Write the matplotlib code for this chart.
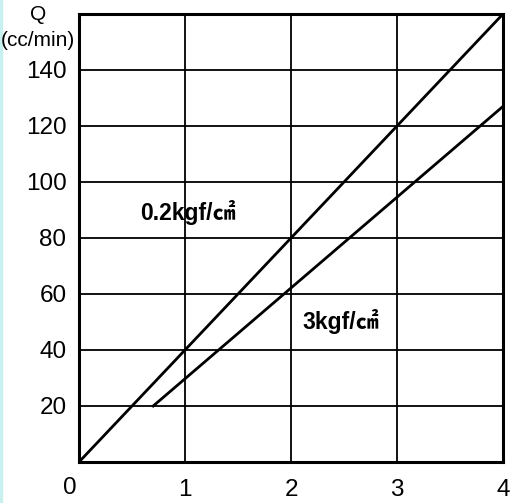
import matplotlib.pyplot as plt
from matplotlib.patches import Rectangle

plt.rcParams['font.family'] = ['Liberation Sans', 'Noto Sans CJK JP', 'DejaVu Sans']

# pressure (x) vs flow Q (cc/min)
x_ticks = [0, 1, 2, 3, 4]
y_ticks = [20, 40, 60, 80, 100, 120, 140]
line_low_x = [0, 4]
line_low_y = [0, 160]      # 0.2kgf/cm2
line_high_x = [0.7, 4]
line_high_y = [20, 127]    # 3kgf/cm2

fig = plt.figure(figsize=(5.14, 5.03), dpi=100)
fig.patches.append(Rectangle((0, 0), 2 / 514, 1, transform=fig.transFigure,
                             color='#c8f0ee', zorder=0))
ax = fig.add_axes([79 / 514, 1 - 462 / 503, 424 / 514, 448 / 503])
ax.set_xlim(0, 4)
ax.set_ylim(0, 160)

for xv in x_ticks[1:-1]:
    ax.axvline(xv, color='black', lw=1.3, zorder=1)
for yv in y_ticks:
    ax.axhline(yv, color='black', lw=1.3, zorder=1)

ax.plot(line_low_x, line_low_y, color='black', lw=2, zorder=2)
ax.plot(line_high_x, line_high_y, color='black', lw=2, zorder=2)

for s in ax.spines.values():
    s.set_linewidth(2.2)

# the "0" label sits left of the corner, drawn separately below
ax.set_xticks(x_ticks)
ax.set_xticklabels([''] + [str(v) for v in x_ticks[1:]])
ax.set_yticks(y_ticks)
ax.set_yticklabels([str(v) for v in y_ticks])
ax.tick_params(axis='both', length=0, labelsize=17.5)
ax.tick_params(axis='x', pad=12)
ax.tick_params(axis='y', pad=9)
fig.text(70 / 514, 1 - 488 / 503, '0', fontsize=17.5, ha='center', va='center')

ax.text(0.575, 89, '0.2kgf/㎠', fontsize=16.5, fontweight='bold', va='center')
ax.text(2.11, 50, '3kgf/㎠', fontsize=16.5, fontweight='bold', va='center')

fig.text(38 / 514, 1 - 15 / 503, 'Q', fontsize=15, ha='center', va='center')
fig.text(38 / 514, 1 - 40 / 503, '(cc/min)', fontsize=15, ha='center', va='center')

fig.savefig('out.png', dpi=100)
